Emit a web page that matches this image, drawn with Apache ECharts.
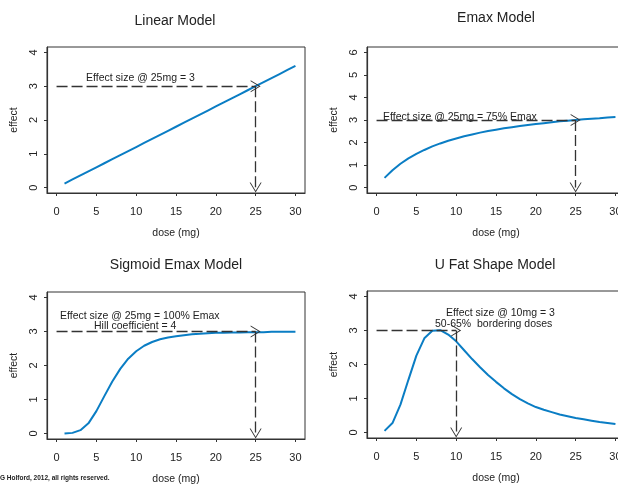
<!DOCTYPE html>
<html>
<head>
<meta charset="utf-8">
<script src="https://cdn.jsdelivr.net/npm/echarts@6.0.0/dist/echarts.min.js"></script>
<style>
html, body { margin: 0; padding: 0; background: #fff; }
#chart { width: 618px; height: 484px; }
</style>
</head>
<body>
<div id="chart"></div>
<script>
// dose (mg) and effect
const doses = [1, 2, 3, 4, 5, 6, 7, 8, 9, 10, 11, 12, 13, 14, 15, 16, 17, 18, 19, 20, 21, 22, 23, 24, 25, 26, 27, 28, 29, 30];
const linearEffect = [0.12, 0.24, 0.36, 0.48, 0.6, 0.72, 0.84, 0.96, 1.08, 1.2, 1.32, 1.44, 1.56, 1.68, 1.8, 1.92, 2.04, 2.16, 2.28, 2.4, 2.52, 2.64, 2.76, 2.88, 3.0, 3.12, 3.24, 3.36, 3.48, 3.6];
const emaxEffect = [0.43, 0.77, 1.06, 1.3, 1.5, 1.67, 1.83, 1.96, 2.08, 2.18, 2.28, 2.36, 2.44, 2.51, 2.57, 2.63, 2.68, 2.73, 2.78, 2.82, 2.86, 2.9, 2.94, 2.97, 3.0, 3.03, 3.06, 3.08, 3.11, 3.13];
const sigmoidEffect = [0.0, 0.02, 0.1, 0.3, 0.66, 1.1, 1.53, 1.9, 2.2, 2.42, 2.58, 2.69, 2.77, 2.82, 2.86, 2.89, 2.92, 2.93, 2.95, 2.96, 2.96, 2.97, 2.97, 2.98, 2.98, 2.98, 2.99, 2.99, 2.99, 2.99];
const uShapeEffect = [0.05, 0.28, 0.82, 1.55, 2.26, 2.77, 2.99, 3.01, 2.88, 2.68, 2.42, 2.16, 1.92, 1.69, 1.49, 1.3, 1.13, 0.98, 0.86, 0.75, 0.67, 0.6, 0.53, 0.48, 0.43, 0.39, 0.35, 0.31, 0.28, 0.25];

const xTicks = [0, 5, 10, 15, 20, 25, 30];
const yTicks4 = [0, 1, 2, 3, 4];
const yTicks6 = [0, 1, 2, 3, 4, 5, 6];

const titles = ['Linear Model', 'Emax Model', 'Sigmoid Emax Model', 'U Fat Shape Model'];
// [dose, effect] marked by the dashed arrows
const targets = [[25, 3], [25, 3], [25, 3], [10, 3]];

const chart = echarts.init(document.getElementById('chart'));

const FONT = 'Liberation Sans, Arial, sans-serif';
const BLUE = '#0a7dc4';
const INK = '#222';

const boxes = [
    { left: 47, top: 47, width: 258, height: 146 },
    { left: 367, top: 47, width: 258, height: 146 },
    { left: 47, top: 292, width: 258, height: 147 },
    { left: 367, top: 291, width: 258, height: 147 }
];
const yRanges = [[-0.16, 4.16, yTicks4], [-0.24, 6.24, yTicks6], [-0.16, 4.16, yTicks4], [-0.16, 4.16, yTicks4]];
const effects = [linearEffect, emaxEffect, sigmoidEffect, uShapeEffect];

// open V arrowhead, tip at the top
const arrowHead = 'path://M0,10 L6,0 L12,10 L11,10 L6,1.8 L1,10 Z';

const grids = boxes.map(b => Object.assign({
    show: true, borderColor: '#333', borderWidth: 1,
    containLabel: false, outerBoundsMode: 'none'
}, b));

const xAxes = boxes.map((b, i) => ({
    type: 'value', gridIndex: i, min: -1.2, max: 31.2,
    name: 'dose (mg)', nameLocation: 'middle', nameGap: 35,
    nameTextStyle: { fontFamily: FONT, fontSize: 10.5, color: INK },
    axisLine: { show: true, onZero: false, lineStyle: { color: '#333', width: 1.2 } },
    axisTick: { show: true, customValues: xTicks, length: 3, lineStyle: { color: '#333' } },
    axisLabel: { customValues: xTicks, margin: 13, fontFamily: FONT, fontSize: 11, color: INK },
    splitLine: { show: false }
}));

const yAxes = boxes.map((b, i) => ({
    type: 'value', gridIndex: i, min: yRanges[i][0], max: yRanges[i][1],
    name: 'effect', nameLocation: 'middle', nameGap: 27,
    nameTextStyle: { fontFamily: FONT, fontSize: 10.5, color: INK },
    axisLine: { show: true, onZero: false, lineStyle: { color: '#333', width: 1.2 } },
    axisTick: { show: true, customValues: yRanges[i][2], length: 3, lineStyle: { color: '#333' } },
    axisLabel: { customValues: yRanges[i][2], rotate: 90, margin: 8, fontFamily: FONT, fontSize: 11, color: INK },
    splitLine: { show: false }
}));

const series = effects.map((vals, i) => ({
    type: 'line', xAxisIndex: i, yAxisIndex: i,
    data: doses.map((d, k) => [d, vals[k]]),
    showSymbol: false, symbol: 'none',
    lineStyle: { color: BLUE, width: 2 },
    markLine: {
        silent: true,
        symbol: ['none', arrowHead],
        symbolSize: [12, 10],
        label: { show: false },
        lineStyle: { color: '#333', type: [11, 4], width: 1.3 },
        data: [
            [{ coord: [0, targets[i][1]] }, { coord: [targets[i][0], targets[i][1]] }],
            [{ coord: [targets[i][0], targets[i][1]] }, { coord: [targets[i][0], 0] }]
        ]
    }
}));

function txt(x, y, text, size, align, extra) {
    return {
        type: 'text', x: x, y: y, silent: true,
        style: Object.assign({
            text: text, fill: INK, font: size + 'px ' + FONT,
            textAlign: align || 'center', textVerticalAlign: 'middle'
        }, extra || {})
    };
}

const graphics = [
    txt(175, 21, titles[0], 14),
    txt(496, 18, titles[1], 14),
    txt(176, 265, titles[2], 14),
    txt(495, 265, titles[3], 14),
    txt(86, 78, 'Effect size @ 25mg = 3', 10.5, 'left'),
    txt(383, 117, 'Effect size @ 25mg = 75% Emax', 10.5, 'left'),
    txt(60, 316, 'Effect size @ 25mg = 100% Emax', 10.5, 'left'),
    txt(94, 326, 'Hill coefficient = 4', 10.5, 'left'),
    txt(446, 313, 'Effect size @ 10mg = 3', 10.5, 'left'),
    txt(435, 324, '50-65%  bordering doses', 10.5, 'left'),
    txt(0, 478, 'G Holford, 2012, all rights reserved.', 6.5, 'left', { font: 'bold 6.5px ' + FONT })
];

chart.setOption({
    animation: false,
    backgroundColor: '#fff',
    grid: grids,
    xAxis: xAxes,
    yAxis: yAxes,
    series: series,
    graphic: graphics
});
window.addEventListener('resize', () => chart.resize());
</script>
</body>
</html>
